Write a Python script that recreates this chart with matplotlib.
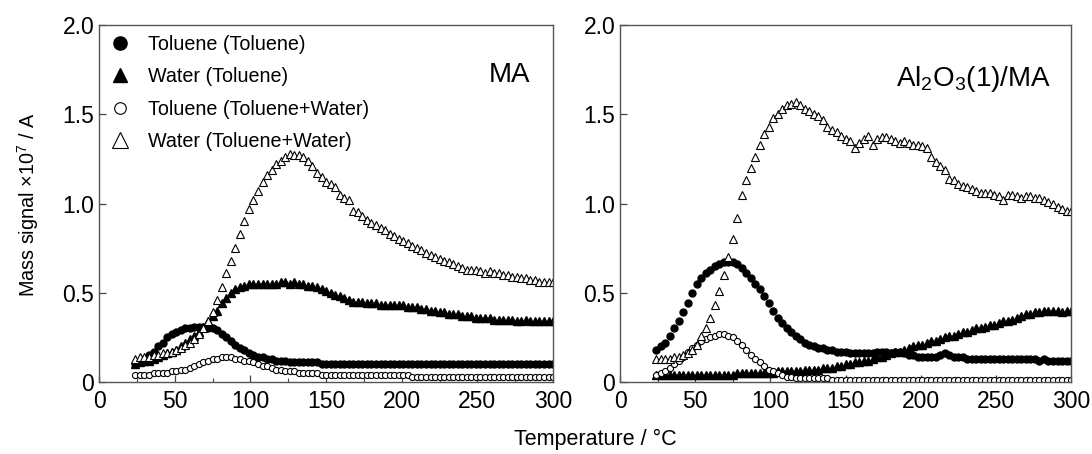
import matplotlib
matplotlib.use("Agg")
import matplotlib.pyplot as plt
from matplotlib.ticker import MultipleLocator, FixedLocator

plt.rcParams['font.family'] = ['Liberation Sans', 'DejaVu Sans']
plt.rcParams['mathtext.fontset'] = 'custom'
plt.rcParams['mathtext.rm'] = 'Liberation Sans'
plt.rcParams['mathtext.it'] = 'Liberation Sans:italic'
plt.rcParams['mathtext.bf'] = 'Liberation Sans:bold'

# sampling temperatures (deg C), shared by every series
temps = [24, 27, 30, 33, 36, 39, 42, 45, 48, 51,
         54, 57, 60, 63, 66, 69, 72, 75, 78, 81,
         84, 87, 90, 93, 96, 99, 102, 105, 108, 111,
         114, 117, 120, 123, 126, 129, 132, 135, 138, 141,
         144, 147, 150, 153, 156, 159, 162, 165, 168, 171,
         174, 177, 180, 183, 186, 189, 192, 195, 198, 201,
         204, 207, 210, 213, 216, 219, 222, 225, 228, 231,
         234, 237, 240, 243, 246, 249, 252, 255, 258, 261,
         264, 267, 270, 273, 276, 279, 282, 285, 288, 291,
         294, 297, 300]

# ---- MA ----
ma_tol_tol = [0.10, 0.11, 0.13, 0.15, 0.17, 0.20, 0.22, 0.25, 0.27, 0.28,
              0.29, 0.30, 0.30, 0.31, 0.31, 0.31, 0.30, 0.30, 0.29, 0.27,
              0.25, 0.23, 0.21, 0.19, 0.18, 0.16, 0.15, 0.14, 0.14, 0.13,
              0.13, 0.12, 0.12, 0.12, 0.11, 0.11, 0.11, 0.11, 0.11, 0.11,
              0.11, 0.10, 0.10, 0.10, 0.10, 0.10, 0.10, 0.10, 0.10, 0.10,
              0.10, 0.10, 0.10, 0.10, 0.10, 0.10, 0.10, 0.10, 0.10, 0.10,
              0.10, 0.10, 0.10, 0.10, 0.10, 0.10, 0.10, 0.10, 0.10, 0.10,
              0.10, 0.10, 0.10, 0.10, 0.10, 0.10, 0.10, 0.10, 0.10, 0.10,
              0.10, 0.10, 0.10, 0.10, 0.10, 0.10, 0.10, 0.10, 0.10, 0.10,
              0.10, 0.10, 0.10]
ma_wat_tol = [0.10, 0.11, 0.12, 0.12, 0.13, 0.14, 0.15, 0.16, 0.17, 0.18,
              0.20, 0.22, 0.24, 0.26, 0.28, 0.31, 0.34, 0.37, 0.40, 0.44,
              0.47, 0.50, 0.52, 0.53, 0.54, 0.55, 0.55, 0.55, 0.55, 0.55,
              0.55, 0.55, 0.56, 0.56, 0.55, 0.56, 0.55, 0.55, 0.54, 0.54,
              0.53, 0.52, 0.51, 0.50, 0.49, 0.48, 0.47, 0.46, 0.45, 0.45,
              0.45, 0.44, 0.44, 0.44, 0.43, 0.43, 0.43, 0.43, 0.43, 0.43,
              0.42, 0.42, 0.42, 0.41, 0.41, 0.40, 0.40, 0.39, 0.39, 0.38,
              0.38, 0.38, 0.37, 0.37, 0.37, 0.36, 0.36, 0.36, 0.36, 0.35,
              0.35, 0.35, 0.35, 0.35, 0.34, 0.34, 0.35, 0.34, 0.34, 0.34,
              0.34, 0.34, 0.34]
ma_tol_mix = [0.04, 0.04, 0.04, 0.04, 0.05, 0.05, 0.05, 0.05, 0.06, 0.06,
              0.07, 0.07, 0.08, 0.09, 0.10, 0.11, 0.12, 0.13, 0.13, 0.14,
              0.14, 0.14, 0.13, 0.13, 0.12, 0.12, 0.11, 0.10, 0.09, 0.09,
              0.08, 0.07, 0.07, 0.06, 0.06, 0.06, 0.05, 0.05, 0.05, 0.05,
              0.05, 0.04, 0.04, 0.04, 0.04, 0.04, 0.04, 0.04, 0.04, 0.04,
              0.04, 0.04, 0.04, 0.04, 0.04, 0.04, 0.04, 0.04, 0.04, 0.04,
              0.04, 0.03, 0.03, 0.03, 0.03, 0.03, 0.03, 0.03, 0.03, 0.03,
              0.03, 0.03, 0.03, 0.03, 0.03, 0.03, 0.03, 0.03, 0.03, 0.03,
              0.03, 0.03, 0.03, 0.03, 0.03, 0.03, 0.03, 0.03, 0.03, 0.03,
              0.03, 0.03, 0.03]
ma_wat_mix = [0.13, 0.14, 0.14, 0.14, 0.15, 0.15, 0.16, 0.16, 0.17, 0.18,
              0.19, 0.21, 0.22, 0.24, 0.27, 0.30, 0.34, 0.39, 0.46, 0.53,
              0.61, 0.68, 0.75, 0.83, 0.90, 0.97, 1.02, 1.07, 1.12, 1.16,
              1.19, 1.22, 1.24, 1.26, 1.28, 1.27, 1.27, 1.26, 1.24, 1.21,
              1.17, 1.15, 1.12, 1.11, 1.09, 1.05, 1.03, 1.02, 0.96, 0.95,
              0.93, 0.91, 0.89, 0.88, 0.86, 0.85, 0.83, 0.82, 0.80, 0.79,
              0.78, 0.76, 0.75, 0.74, 0.72, 0.71, 0.70, 0.69, 0.68, 0.67,
              0.66, 0.65, 0.64, 0.63, 0.63, 0.63, 0.62, 0.61, 0.62, 0.61,
              0.61, 0.60, 0.60, 0.59, 0.59, 0.58, 0.58, 0.57, 0.57, 0.56,
              0.56, 0.56, 0.56]

# ---- Al2O3(1)/MA ----
al_tol_tol = [0.18, 0.20, 0.22, 0.26, 0.30, 0.34, 0.39, 0.44, 0.50, 0.55,
              0.58, 0.61, 0.63, 0.65, 0.66, 0.67, 0.67, 0.67, 0.66, 0.64,
              0.61, 0.58, 0.55, 0.52, 0.48, 0.44, 0.40, 0.36, 0.33, 0.30,
              0.28, 0.26, 0.24, 0.22, 0.21, 0.20, 0.19, 0.19, 0.18, 0.18,
              0.17, 0.17, 0.17, 0.16, 0.16, 0.16, 0.16, 0.16, 0.16, 0.17,
              0.17, 0.17, 0.16, 0.17, 0.17, 0.16, 0.15, 0.15, 0.14, 0.14,
              0.14, 0.14, 0.14, 0.15, 0.16, 0.15, 0.14, 0.14, 0.14, 0.13,
              0.13, 0.13, 0.13, 0.13, 0.13, 0.13, 0.13, 0.13, 0.13, 0.13,
              0.13, 0.13, 0.13, 0.13, 0.13, 0.12, 0.13, 0.12, 0.12, 0.12,
              0.12, 0.12, 0.12]
al_wat_tol = [0.04, 0.04, 0.04, 0.04, 0.04, 0.04, 0.04, 0.04, 0.04, 0.04,
              0.04, 0.04, 0.04, 0.04, 0.04, 0.04, 0.04, 0.04, 0.05, 0.05,
              0.05, 0.05, 0.05, 0.05, 0.05, 0.05, 0.05, 0.06, 0.06, 0.06,
              0.06, 0.06, 0.06, 0.07, 0.07, 0.07, 0.07, 0.08, 0.08, 0.08,
              0.09, 0.09, 0.10, 0.10, 0.11, 0.11, 0.12, 0.12, 0.13, 0.14,
              0.14, 0.15, 0.16, 0.17, 0.17, 0.18, 0.19, 0.20, 0.21, 0.21,
              0.22, 0.23, 0.23, 0.24, 0.25, 0.26, 0.26, 0.27, 0.28, 0.28,
              0.29, 0.30, 0.30, 0.31, 0.32, 0.32, 0.33, 0.34, 0.34, 0.35,
              0.36, 0.37, 0.38, 0.38, 0.39, 0.39, 0.40, 0.40, 0.40, 0.40,
              0.39, 0.40, 0.40]
al_tol_mix = [0.04, 0.05, 0.06, 0.08, 0.10, 0.12, 0.14, 0.17, 0.19, 0.21,
              0.23, 0.24, 0.25, 0.26, 0.27, 0.27, 0.26, 0.25, 0.23, 0.21,
              0.18, 0.15, 0.13, 0.11, 0.09, 0.07, 0.06, 0.05, 0.04, 0.03,
              0.03, 0.02, 0.02, 0.02, 0.02, 0.02, 0.02, 0.02, 0.02, 0.01,
              0.01, 0.01, 0.01, 0.01, 0.01, 0.01, 0.01, 0.01, 0.01, 0.01,
              0.01, 0.01, 0.01, 0.01, 0.01, 0.01, 0.01, 0.01, 0.01, 0.01,
              0.01, 0.01, 0.01, 0.01, 0.01, 0.01, 0.01, 0.01, 0.01, 0.01,
              0.01, 0.01, 0.01, 0.01, 0.01, 0.01, 0.01, 0.01, 0.01, 0.01,
              0.01, 0.01, 0.01, 0.01, 0.01, 0.01, 0.01, 0.01, 0.01, 0.01,
              0.01, 0.01, 0.01]
al_wat_mix = [0.13, 0.13, 0.13, 0.13, 0.14, 0.14, 0.15, 0.16, 0.18, 0.21,
              0.26, 0.30, 0.36, 0.43, 0.51, 0.60, 0.70, 0.80, 0.92, 1.05,
              1.13, 1.20, 1.26, 1.33, 1.39, 1.43, 1.48, 1.50, 1.53, 1.55,
              1.56, 1.57, 1.55, 1.53, 1.52, 1.50, 1.49, 1.47, 1.43, 1.41,
              1.40, 1.38, 1.36, 1.35, 1.31, 1.34, 1.36, 1.38, 1.33, 1.36,
              1.37, 1.37, 1.36, 1.35, 1.34, 1.35, 1.34, 1.33, 1.33, 1.32,
              1.31, 1.26, 1.23, 1.21, 1.19, 1.14, 1.13, 1.11, 1.10, 1.09,
              1.08, 1.07, 1.06, 1.06, 1.06, 1.05, 1.04, 1.02, 1.05, 1.05,
              1.04, 1.03, 1.04, 1.04, 1.03, 1.03, 1.02, 1.01, 1.00, 0.98,
              0.97, 0.96, 0.96]

labels = ['Toluene (Toluene)', 'Water (Toluene)',
          'Toluene (Toluene+Water)', 'Water (Toluene+Water)']
panel_titles = ['MA', r'Al$_{2}$O$_{3}$(1)/MA']


def draw_panel(ax, tol_tol, wat_tol, tol_mix, wat_mix):
    h1, = ax.plot(temps, tol_tol, 'o', ms=5.0, mfc='black', mec='black', ls='none')
    h2, = ax.plot(temps, wat_tol, '^', ms=5.2, mfc='black', mec='black', ls='none')
    h3, = ax.plot(temps, tol_mix, 'o', ms=4.4, mfc='white', mec='black', mew=0.8, ls='none')
    h4, = ax.plot(temps, wat_mix, '^', ms=5.8, mfc='white', mec='black', mew=0.8, ls='none')
    ax.set_xlim(0, 300)
    ax.set_ylim(0, 2.0)
    ax.xaxis.set_major_locator(MultipleLocator(50))
    ax.xaxis.set_minor_locator(MultipleLocator(25))
    ax.yaxis.set_major_locator(FixedLocator([0, 0.5, 1.0, 1.5, 2.0]))
    ax.set_yticklabels(['0', '0.5', '1.0', '1.5', '2.0'])
    ax.tick_params(which='both', direction='in', labelsize=16.5, color='#444444',
                   top=False, right=False)
    ax.tick_params(axis='x', which='major', pad=6)
    ax.tick_params(which='major', length=5, width=0.9)
    ax.tick_params(which='minor', length=3, width=0.8)
    for sp in ax.spines.values():
        sp.set_color('#555555')
        sp.set_linewidth(1.0)
    return [h1, h2, h3, h4]


fig = plt.figure(figsize=(10.92, 4.54), dpi=100)
ax1 = fig.add_axes([0.0907, 0.1586, 0.4158, 0.7863])
ax2 = fig.add_axes([0.5678, 0.1586, 0.4130, 0.7863])

handles = draw_panel(ax1, ma_tol_tol, ma_wat_tol, ma_tol_mix, ma_wat_mix)
draw_panel(ax2, al_tol_tol, al_wat_tol, al_tol_mix, al_wat_mix)

leg = ax1.legend(handles, labels, loc='upper left', frameon=False, fontsize=14.2,
                 markerscale=1.9, handletextpad=0.9, labelspacing=0.68,
                 borderaxespad=0.25, handlelength=1.1, borderpad=0.25)

ax1.text(0.95, 0.86, panel_titles[0], transform=ax1.transAxes, ha='right',
         va='center', fontsize=20)
ax2.text(0.955, 0.85, panel_titles[1], transform=ax2.transAxes, ha='right',
         va='center', fontsize=20)

fig.text(0.026, 0.55, r'Mass signal $\times$10$^{7}$ / A', rotation=90,
         ha='center', va='center', fontsize=14.3)
fig.text(0.545, 0.031, 'Temperature / \u00b0C', ha='center', va='center', fontsize=15.5)

fig.savefig('out.png', dpi=100)
